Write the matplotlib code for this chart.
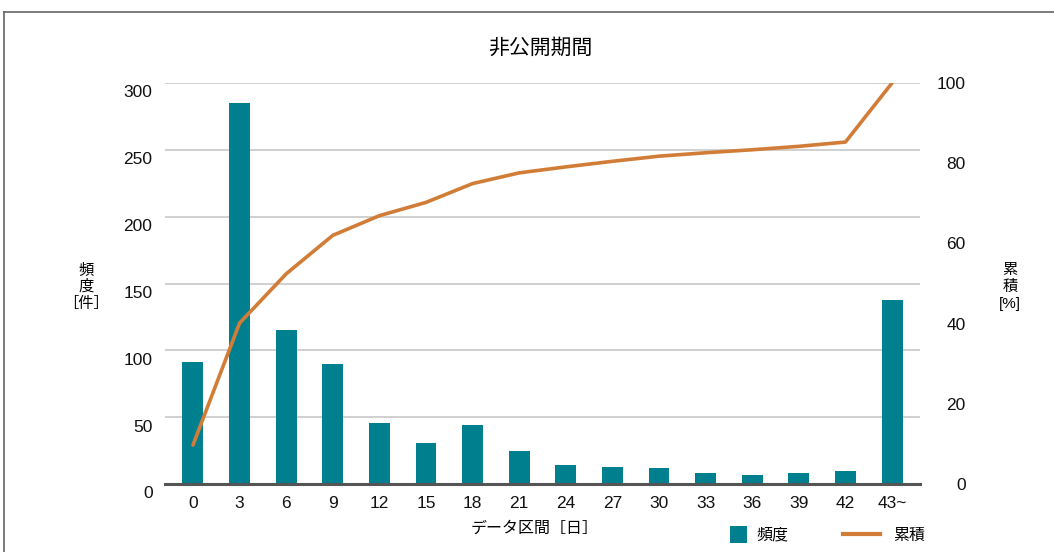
import numpy as np
import matplotlib
matplotlib.use("Agg")
import matplotlib.pyplot as plt
from matplotlib.lines import Line2D
from matplotlib.patches import Rectangle
import matplotlib.transforms as mtransforms

plt.rcParams['font.family'] = ['Liberation Sans', 'Noto Sans CJK JP', 'DejaVu Sans']

# data bins (days) and counts
categories = ['0', '3', '6', '9', '12', '15', '18', '21', '24', '27', '30', '33', '36', '39', '42', '43~']
counts = [91, 285, 115, 90, 46, 31, 44, 25, 14, 13, 12, 8, 7, 8, 10, 138]

bar_color = '#007f8f'
line_color = '#d27d37'

cumulative = np.cumsum(counts) / np.sum(counts) * 100.0

W, H = 1054, 552
fig = plt.figure(figsize=(W / 100, H / 100), dpi=100)
ax = fig.add_axes([165 / W, 1 - 484 / H, 755 / W, 401 / H])
ax2 = ax.twinx()

x = np.arange(len(categories))
ax.bar(x, counts, width=0.45, color=bar_color, zorder=3)
ax2.plot(x, cumulative, color=line_color, lw=2.6, solid_capstyle='round', zorder=4)

ax.set_xlim(-0.6, len(categories) - 0.4)
ax.set_ylim(0, 300)
ax2.set_ylim(0, 100)
ax.set_yticks(np.arange(0, 301, 50))
ax2.set_yticks(np.arange(0, 101, 20))
ax.set_xticks(x)
ax.set_xticklabels(categories)

ax.yaxis.grid(True, color='#c8c8c8', lw=1.2, zorder=0)
ax.set_axisbelow(True)
for a in (ax, ax2):
    for s in ('top', 'left', 'right', 'bottom'):
        a.spines[s].set_visible(False)
    a.tick_params(length=0, labelsize=12.5, colors='#111111')
ax.axhline(0, color='#555555', lw=2.2, zorder=5, clip_on=False)

ax.tick_params(axis='y', pad=9)
ax.tick_params(axis='x', pad=9)
ax2.tick_params(axis='y', pad=33)
for lab in ax2.get_yticklabels():
    lab.set_horizontalalignment('right')
# left labels sit slightly below their gridlines
offset = mtransforms.ScaledTranslation(0, -6 / 72, fig.dpi_scale_trans)
for lab in ax.get_yticklabels():
    lab.set_transform(lab.get_transform() + offset)

fig.text(540 / W, 1 - 48 / H, '非公開期間', ha='center', va='center', fontsize=15)
fig.text(535 / W, 1 - 528 / H, 'データ区間［日］', ha='center', va='center', fontsize=11.5)
fig.text(86 / W, 1 - 287 / H, '頻\n度\n［件］', ha='center', va='center', fontsize=11, linespacing=1.25)
fig.text(1010 / W, 1 - 287 / H, '累\n積\n[%]', ha='center', va='center', fontsize=11, linespacing=1.25)

# legend
fig.add_artist(Rectangle((730 / W, 1 - 543 / H), 17 / W, 17 / H, transform=fig.transFigure,
                         facecolor=bar_color, edgecolor='none'))
fig.text(756 / W, 1 - 535 / H, '頻度', ha='left', va='center', fontsize=11.5)
fig.add_artist(Line2D([843 / W, 880 / W], [1 - 534 / H, 1 - 534 / H], color=line_color, lw=3))
fig.text(893 / W, 1 - 535 / H, '累積', ha='left', va='center', fontsize=11.5)

# outer frame
fig.add_artist(Line2D([4 / W, 1], [1 - 12 / H, 1 - 12 / H], color='#666666', lw=1.2))
fig.add_artist(Line2D([4 / W, 4 / W], [0, 1 - 12 / H], color='#666666', lw=1.2))

fig.savefig('out.png', dpi=100)
